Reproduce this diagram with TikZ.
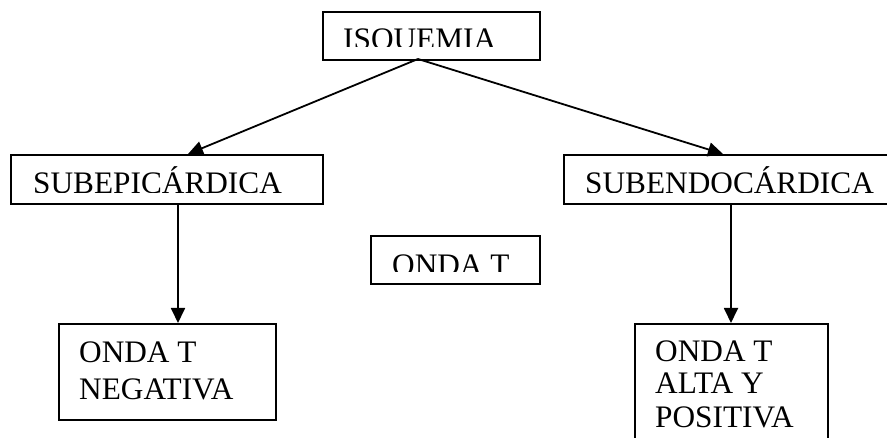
\documentclass[tikz,border=0pt]{standalone}
\usepackage{fontspec}
\setmainfont{Liberation Serif}
\usetikzlibrary{arrows.meta}
\begin{document}
\begin{tikzpicture}[x=1pt,y=-1pt,
  box/.style={draw=black, line width=2pt, inner sep=0pt, anchor=north west},
  label/.style={inner sep=0pt, anchor=base west, font=\fontsize{31.3}{37}\selectfont},
  link/.style={line width=1.8pt, -{Triangle[length=15pt,width=14pt]}}]
  \useasboundingbox (0,0) rectangle (887,438);
  \clip (0,0) rectangle (887,438);

  % frames
  \node[box, minimum width=217pt, minimum height=48pt] (isq) at (322,11) {};
  \node[box, minimum width=312pt, minimum height=49pt] (epi) at (10,154) {};
  \node[box, minimum width=340pt, minimum height=49pt] (endo) at (563,154) {};
  \node[box, minimum width=169pt, minimum height=48pt] (onda) at (370,235) {};
  \node[box, minimum width=217pt, minimum height=96pt] (neg) at (58,323) {};
  \node[box, minimum width=193pt, minimum height=140pt] (pos) at (634,323) {};

  % single-line captions, cut off at the bottom
  \begin{scope}
    \clip (322,11) rectangle (539,47);
    \node[label] (tisq) at (343,49.5) {ISQUEMIA};
  \end{scope}
  \begin{scope}
    \clip (10,154) rectangle (322,193);
    \node[label] (tepi) at (33,194) {SUBEPICÁRDICA};
  \end{scope}
  \begin{scope}
    \clip (563,154) rectangle (887,193);
    \node[label] (tendo) at (585,194) {SUBENDOCÁRDICA};
  \end{scope}
  \begin{scope}
    \clip (370,235) rectangle (539,272);
    \node[label] (tonda) at (392,275.5) {ONDA T};
  \end{scope}

  % multi-line captions
  \node[label] (tneg1) at (79,363) {ONDA T};
  \node[label] (tneg2) at (79,400) {NEGATIVA};
  \node[label] (tpos1) at (655,362) {ONDA T};
  \node[label] (tpos2) at (655,394) {ALTA Y};
  \node[label] (tpos3) at (655,428) {POSITIVA};

  % connectors
  \coordinate (apex) at (418,59);
  \coordinate (epitop) at (188,154);
  \coordinate (endotop) at (723,154);
  \draw[link] (apex) -- (epitop);
  \draw[link] (apex) -- (endotop);
  \draw[link] (epi.south -| 178,0) -- (neg.north -| 178,0);
  \draw[link] (endo.south -| 731,0) -- (pos.north -| 731,0);
\end{tikzpicture}
\end{document}
